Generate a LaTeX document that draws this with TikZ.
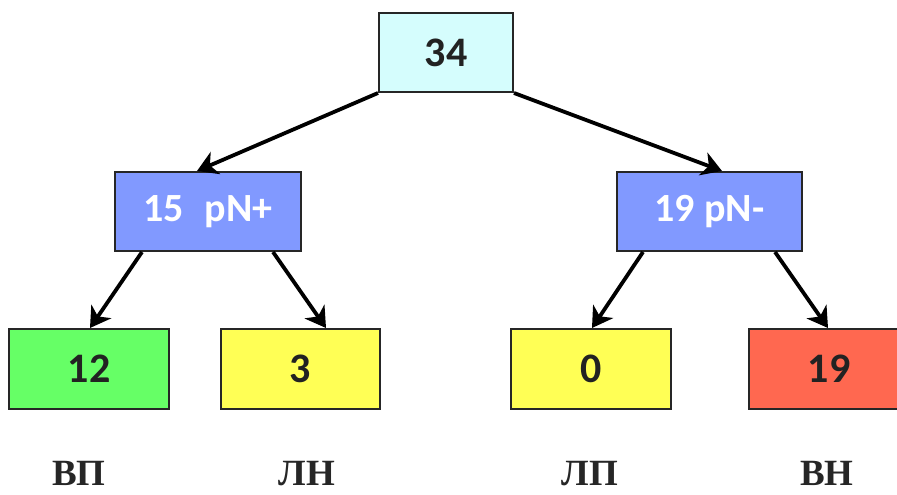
\documentclass[tikz,border=0pt]{standalone}
\usepackage{fontspec}
\setmainfont{Carlito}
\newfontfamily\labfont{Liberation Serif}
\usetikzlibrary{arrows.meta}
\definecolor{rootc}{HTML}{D5FDFD}
\definecolor{midc}{HTML}{8199FF}
\definecolor{grn}{HTML}{66FF66}
\definecolor{ylw}{HTML}{FFFF55}
\definecolor{redc}{HTML}{FF6850}
\definecolor{txt}{HTML}{222222}
\tikzset{
  box/.style={draw=black!85, line width=2pt, inner sep=0pt, font=\fontsize{42}{46}\selectfont\bfseries, text=txt},
  midbox/.style={box, fill=midc, text=white, minimum width=186pt, minimum height=79pt, font=\fontsize{40}{44}\selectfont\bfseries},
  leaf/.style={box, minimum width=160pt, minimum height=80pt},
  arr/.style={line width=3.8pt, -{Stealth[length=20pt,width=24pt,inset=6pt]}},
  lab/.style={font=\labfont\fontsize{37}{40}\selectfont\bfseries, text=black!85, anchor=base, inner sep=0pt}
}
\begin{document}
\begin{tikzpicture}[x=1pt,y=1pt]
\useasboundingbox (0,0) rectangle (897,495);
\node[box, fill=rootc, minimum width=134pt, minimum height=79pt] (root) at (446,442.5) {34};
\node[midbox] (l) at (208,283.5) {15\hspace{0.3em} pN+};
\node[midbox, minimum width=185pt] (r) at (709.5,283.5) {19 pN-};
\node[leaf, fill=grn] (ll) at (89,126) {12};
\node[leaf, fill=ylw, minimum width=159pt] (lr) at (300.5,126) {3};
\node[leaf, fill=ylw] (rl) at (591,126) {0};
\node[leaf, fill=redc] (rr) at (829,126) {19};
\draw[arr] (root.south west) -- ([xshift=-11pt]l.north);
\draw[arr] (root.south east) -- ([xshift=12.5pt]r.north);
\draw[arr] ([xshift=-66pt]l.south) -- ([xshift=1pt]ll.north);
\draw[arr] ([xshift=65pt]l.south) -- ([xshift=25.5pt]lr.north);
\draw[arr] ([xshift=-66.5pt]r.south) -- ([xshift=1pt]rl.north);
\draw[arr] ([xshift=65.5pt]r.south) -- ([xshift=-1pt]rr.north);
\node[lab] (t1) at (79,9) {ВП};
\node[lab] (t2) at (307,9) {ЛН};
\node[lab] (t3) at (590,9) {ЛП};
\node[lab] (t4) at (827,9) {ВН};
\end{tikzpicture}
\end{document}
